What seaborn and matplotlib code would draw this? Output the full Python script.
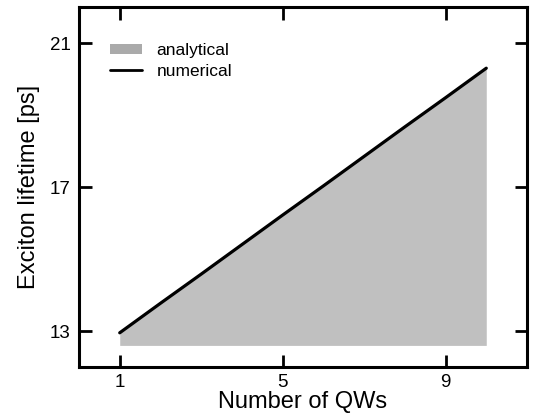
import matplotlib
matplotlib.use("Agg")
import matplotlib.pyplot as plt
import seaborn as sns
import pandas as pd
from matplotlib.patches import Patch
from matplotlib.lines import Line2D

n_qws = [1, 2, 3, 4, 5, 6, 7, 8, 9, 10]
numerical = [12.95, 13.77, 14.58, 15.40, 16.22, 17.03, 17.85, 18.67, 19.48, 20.30]
analytical_low = [12.6, 12.6, 12.6, 12.6, 12.6, 12.6, 12.6, 12.6, 12.6, 12.6]
x_ticks = [1, 5, 9]
y_ticks = [13, 17, 21]

sns.set_style("ticks")
plt.rcParams['font.family'] = ['Liberation Sans', 'DejaVu Sans']
plt.rcParams['text.color'] = 'black'
plt.rcParams['axes.labelcolor'] = 'black'
plt.rcParams['xtick.color'] = 'black'
plt.rcParams['ytick.color'] = 'black'
plt.rcParams['axes.edgecolor'] = 'black'

df = pd.DataFrame({"n": n_qws, "num": numerical, "low": analytical_low})

fig = plt.figure(figsize=(5.36, 4.15), dpi=100)
ax = fig.add_axes([79/536, 1 - 367/415, (527-79)/536, (367-7)/415])

ax.fill_between(df["n"], df["low"], df["num"], color="#c0c0c0", linewidth=0)
sns.lineplot(data=df, x="n", y="num", ax=ax, color="black", linewidth=2.3)

ax.set_xlim(0, 11)
ax.set_ylim(12, 22)
ax.set_xticks(x_ticks)
ax.set_yticks(y_ticks)
ax.tick_params(direction="in", length=9, width=2, labelsize=13.5, top=True, right=True,
               labeltop=False, labelright=False, pad=6, colors="black")
ax.tick_params(axis="x", pad=5)
for s in ax.spines.values():
    s.set_linewidth(2.2)
    s.set_color("black")
    s.set_visible(True)

ax.set_xlabel("Number of QWs", fontsize=17, labelpad=0)
ax.set_ylabel("Exciton lifetime [ps]", fontsize=17, labelpad=7)

handles = [Patch(facecolor="#aaaaaa", edgecolor="none", label="analytical"),
           Line2D([0], [0], color="black", linewidth=2, label="numerical")]
ax.legend(handles=handles, loc="upper left", frameon=False, fontsize=12.5,
          bbox_to_anchor=(0.07, 0.90), handlelength=1.85, handleheight=0.55,
          labelspacing=0.35, handletextpad=0.8, borderaxespad=0, borderpad=0)

fig.savefig("out.png", dpi=100)
